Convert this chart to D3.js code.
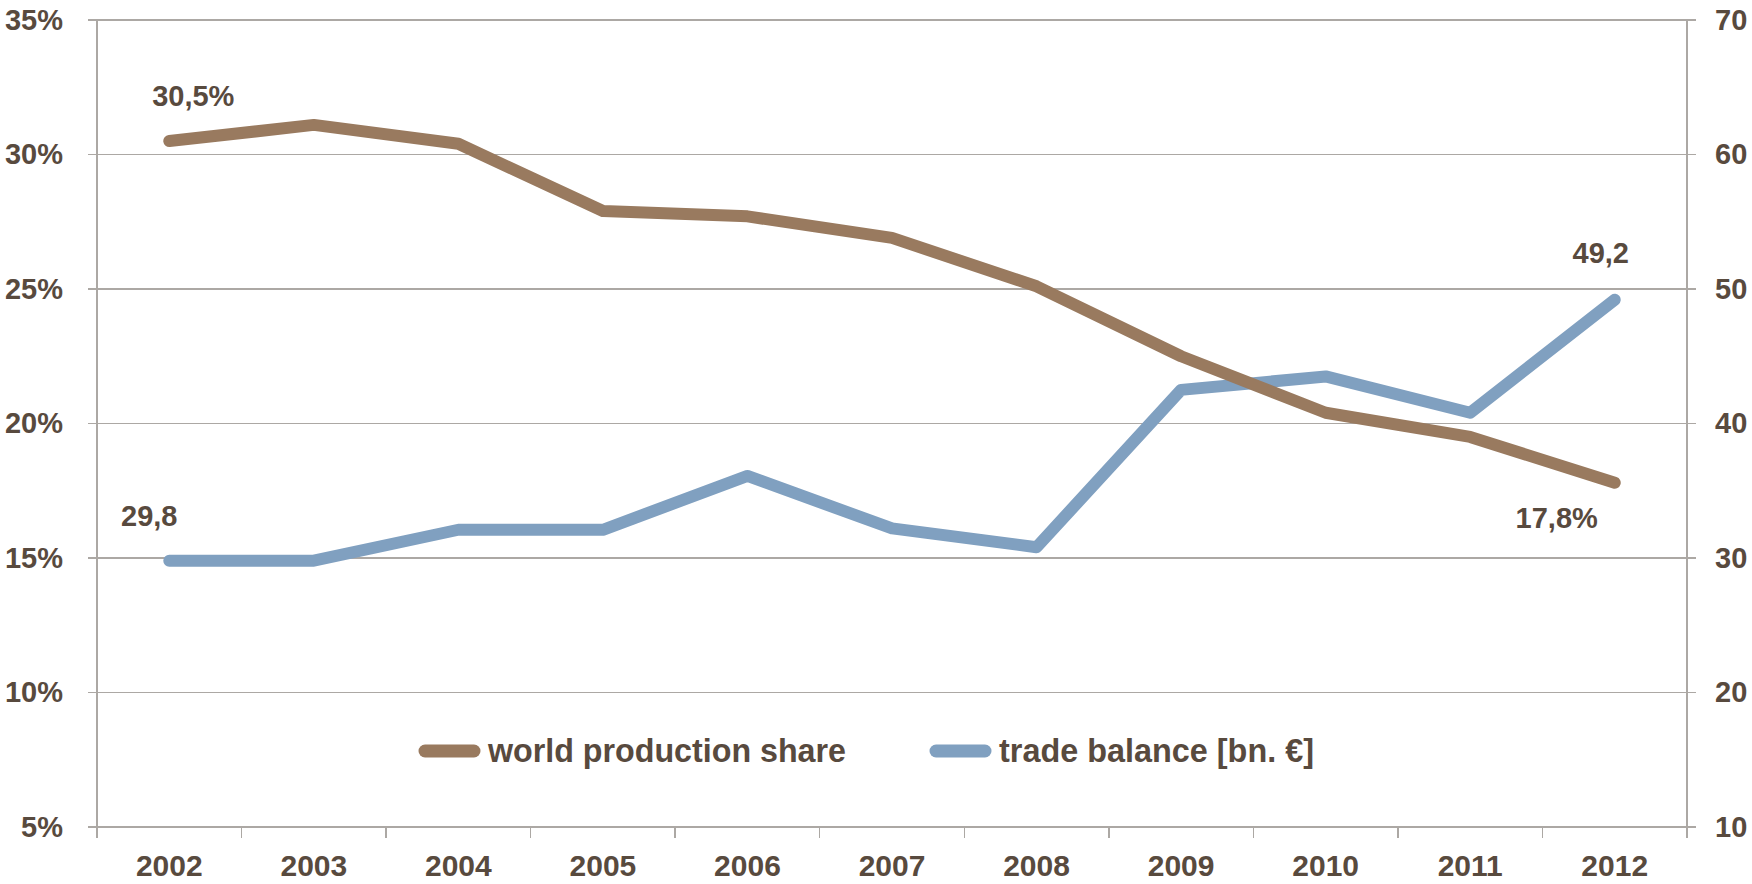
<!DOCTYPE html>
<html>
<head>
<meta charset="utf-8">
<script src="https://cdn.jsdelivr.net/npm/d3@7"></script>
<style>
  html, body { margin: 0; padding: 0; background: #fff; }
  svg { display: block; }
  text { font-family: "Liberation Sans", Arial, sans-serif; font-weight: bold; fill: #584a3e; }
</style>
</head>
<body>
<svg id="chart" width="1752" height="884"></svg>
<script>
const years = ["2002","2003","2004","2005","2006","2007","2008","2009","2010","2011","2012"];
const worldShare = [30.5, 31.1, 30.4, 27.9, 27.7, 26.9, 25.1, 22.5, 20.4, 19.5, 17.8];
const tradeBalance = [29.8, 29.8, 32.1, 32.1, 36.1, 32.2, 30.8, 42.5, 43.5, 40.8, 49.2];
const leftTicks = [5, 10, 15, 20, 25, 30, 35];
const rightTicks = [10, 20, 30, 40, 50, 60, 70];
const seriesNames = ["world production share", "trade balance [bn. \u20AC]"];

const brown = "#997a5f", blue = "#80a0c0", gridColor = "#aca8a4";
const L = 97, R = 1687, T = 20, B = 827;

const svg = d3.select("#chart");
const x = d3.scaleBand().domain(years).range([L, R]);
const yL = d3.scaleLinear().domain([5, 35]).range([B, T]);
const yR = d3.scaleLinear().domain([10, 70]).range([B, T]);

// gridlines (incl. outer tick marks)
svg.append("g").selectAll("line").data(leftTicks).join("line")
  .attr("x1", L - 9).attr("x2", R + 9)
  .attr("y1", d => yL(d)).attr("y2", d => yL(d))
  .attr("stroke", gridColor).attr("stroke-width", 1.5).attr("shape-rendering", "crispEdges");

// vertical axis lines
svg.append("line").attr("x1", L).attr("x2", L).attr("y1", T).attr("y2", B + 11)
  .attr("stroke", gridColor).attr("stroke-width", 1.5).attr("shape-rendering", "crispEdges");
svg.append("line").attr("x1", R).attr("x2", R).attr("y1", T).attr("y2", B + 11)
  .attr("stroke", gridColor).attr("stroke-width", 1.5).attr("shape-rendering", "crispEdges");

// category boundary ticks
svg.append("g").selectAll("line").data(years.slice(1)).join("line")
  .attr("x1", d => x(d)).attr("x2", d => x(d))
  .attr("y1", B).attr("y2", B + 11)
  .attr("stroke", gridColor).attr("stroke-width", 1.5).attr("shape-rendering", "crispEdges");

// left axis labels
const axL = svg.append("g").attr("transform", `translate(${L},0)`)
  .call(d3.axisLeft(yL).tickValues(leftTicks).tickSize(0).tickPadding(34).tickFormat(d => d + "%"));
axL.select(".domain").remove();
axL.selectAll("text").style("font-size", "29px").attr("fill", "#584a3e")
  .style("font-family", '"Liberation Sans", Arial, sans-serif').style("font-weight", "bold");

// right axis labels
const axR = svg.append("g").attr("transform", `translate(${R},0)`)
  .call(d3.axisRight(yR).tickValues(rightTicks).tickSize(0).tickPadding(28));
axR.select(".domain").remove();
axR.selectAll("text").style("font-size", "29px").attr("fill", "#584a3e")
  .style("font-family", '"Liberation Sans", Arial, sans-serif').style("font-weight", "bold");

// bottom axis labels
const axB = svg.append("g").attr("transform", `translate(0,${B})`)
  .call(d3.axisBottom(x).tickSize(0).tickPadding(28));
axB.select(".domain").remove();
axB.selectAll("text").style("font-size", "30px").attr("fill", "#584a3e")
  .style("font-family", '"Liberation Sans", Arial, sans-serif').style("font-weight", "bold");

const cx = d => x(d) + x.bandwidth() / 2;

// lines
const lineL = d3.line().x((d, i) => cx(years[i])).y(d => yL(d));
const lineR = d3.line().x((d, i) => cx(years[i])).y(d => yR(d));

svg.append("path").datum(tradeBalance).attr("d", lineR)
  .attr("fill", "none").attr("stroke", blue).attr("stroke-width", 12)
  .attr("stroke-linecap", "round").attr("stroke-linejoin", "round");
svg.append("path").datum(worldShare).attr("d", lineL)
  .attr("fill", "none").attr("stroke", brown).attr("stroke-width", 12)
  .attr("stroke-linecap", "round").attr("stroke-linejoin", "round");

const fmt = v => v.toFixed(1).replace(".", ",");
const last = years.length - 1;

// data labels
svg.append("text").attr("x", cx(years[0]) + 24).attr("y", yL(worldShare[0]) - 35)
  .attr("text-anchor", "middle").style("font-size", "29px").text(fmt(worldShare[0]) + "%");
svg.append("text").attr("x", cx(years[last]) - 58).attr("y", yL(worldShare[last]) + 45)
  .attr("text-anchor", "middle").style("font-size", "29px").text(fmt(worldShare[last]) + "%");
svg.append("text").attr("x", cx(years[0]) - 20).attr("y", yR(tradeBalance[0]) - 35)
  .attr("text-anchor", "middle").style("font-size", "29px").text(fmt(tradeBalance[0]));
svg.append("text").attr("x", cx(years[last]) - 14).attr("y", yR(tradeBalance[last]) - 37)
  .attr("text-anchor", "middle").style("font-size", "29px").text(fmt(tradeBalance[last]));

// legend
const legendItems = [
  { name: seriesNames[0], color: brown, x0: 419, textW: 358 },
  { name: seriesNames[1], color: blue, x0: 930, textW: 315 }
];
const lg = svg.append("g");
legendItems.forEach(it => {
  lg.append("line").attr("x1", it.x0 + 6).attr("x2", it.x0 + 55).attr("y1", 751).attr("y2", 751)
    .attr("stroke", it.color).attr("stroke-width", 13).attr("stroke-linecap", "round");
  lg.append("text").attr("x", it.x0 + 69).attr("y", 762)
    .style("font-family", '"Liberation Sans Narrow", "Arial Narrow", "Liberation Sans", sans-serif')
    .style("font-size", "33px")
    .attr("textLength", it.textW).attr("lengthAdjust", "spacingAndGlyphs")
    .text(it.name);
});
</script>
</body>
</html>
